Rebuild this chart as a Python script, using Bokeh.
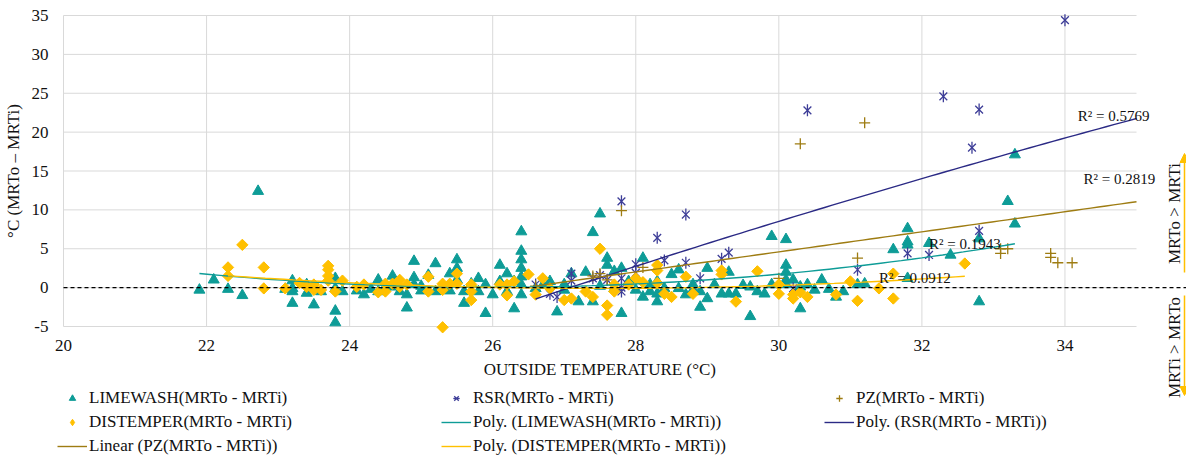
import numpy as np
from bokeh.plotting import figure
from bokeh.models import (Range1d, FixedTicker, Legend, LegendItem, Label, Arrow, NormalHead)
from bokeh.embed import file_html
from bokeh.resources import INLINE

# ---------------- data ----------------
x_ticks = [20, 22, 24, 26, 28, 30, 32, 34]
y_ticks = [-5, 0, 5, 10, 15, 20, 25, 30, 35]
x_limits = [20, 35]
y_limits = [-5, 35]

limewash_x = [21.9, 22.1, 22.3, 22.5, 22.72, 23.1, 23.2, 23.2, 23.2, 23.2, 23.4, 23.4, 23.5, 23.6, 23.8, 23.8, 23.8, 23.8,
              23.9, 24.1, 24.2, 24.3, 24.4, 24.4, 24.5, 24.6, 24.6, 24.7, 24.8, 24.8, 24.9, 24.9, 24.9, 25.0, 25.0, 25.1,
              25.2, 25.2, 25.3, 25.4, 25.4, 25.5, 25.5, 25.5, 25.6, 25.6, 25.7, 25.8, 25.8, 25.9, 25.9, 26.0, 26.1, 26.1,
              26.2, 26.2, 26.3, 26.3, 26.4, 26.4, 26.4, 26.4, 26.4, 26.4, 26.4, 26.6, 26.7, 26.8, 26.9, 27.0, 27.0, 27.1,
              27.2, 27.3, 27.4, 27.4, 27.5, 27.5, 27.6, 27.6, 27.7, 27.7, 27.8, 27.8, 27.9, 28.0, 28.0, 28.1, 28.1, 28.2,
              28.2, 28.3, 28.3, 28.3, 28.4, 28.5, 28.6, 28.6, 28.7, 28.8, 28.8, 28.9, 28.9, 29.0, 29.0, 29.1, 29.2, 29.3,
              29.3, 29.4, 29.5, 29.6, 29.6, 29.7, 29.8, 29.9, 29.9, 30.1, 30.1, 30.1, 30.1, 30.1, 30.2, 30.3, 30.3, 30.4,
              30.5, 30.6, 30.7, 30.8, 30.9, 31.1, 31.2, 31.6, 31.8, 31.8, 31.8, 31.8, 32.1, 32.4, 32.8, 32.8, 33.2, 33.3,
              33.3]
limewash_y = [-0.3, 1.0, -0.2, -1.0, 12.4, -0.2, 0.9, -0.1, -0.5, -2.0, 0.4, -0.7, -2.2, -0.5, 1.2, -0.1, -3.0, -4.5,
              -0.5, -0.4, -0.9, -0.2, 1.0, -0.5, 0.1, 1.5, 0.1, -0.5, -0.9, -2.6, 3.4, 1.3, 0.4, -0.4, 0.2, 1.6,
              3.1, -0.5, 0.1, 1.8, -0.4, 3.6, 2.5, 1.0, -0.5, -2.0, 0.5, 1.2, -0.5, 0.4, -3.3, -0.9, 2.9, 0.8,
              1.8, -0.5, -2.7, 0.8, 7.2, 4.7, 3.6, 2.5, 1.4, 0.4, -0.9, -0.1, 0.3, 0.8, -3.1, 0.4, -0.3, 1.8,
              -1.8, 2.0, 7.1, -1.8, 9.5, 0.2, 3.8, 2.9, 2.1, -0.1, 2.5, -3.3, 0.8, 1.0, -0.3, 3.8, -1.2, 0.4,
              -0.5, -0.8, -1.8, 0.8, -0.1, 1.7, 2.3, -0.1, -0.9, 0.4, -0.3, -2.5, -0.5, 2.5, -1.4, 0.4, -0.8, 2.0,
              -0.8, -0.8, 0.3, -3.7, 0.1, -0.5, -0.8, 6.6, 0.4, 6.2, 2.9, 2.0, 1.0, 0.4, 1.0, -2.7, 0.1, 0.4,
              -0.3, 1.0, -0.2, -1.2, -0.5, 0.4, 0.5, 4.9, 7.6, 5.9, 5.5, 1.2, 5.7, 4.2, 6.3, -1.8, 11.1, 17.1,
              8.2]

distemper_x = [22.3, 22.3, 22.5, 22.8, 22.8, 23.1, 23.3, 23.4, 23.5, 23.5, 23.6, 23.7, 23.7, 23.7, 23.7, 23.8, 23.9,
               24.1, 24.2, 24.4, 24.5, 24.5, 24.6, 24.7, 24.7, 24.8, 25.1, 25.1, 25.3, 25.3, 25.3, 25.4, 25.5, 25.5,
               25.7, 25.7, 25.7, 26.1, 26.2, 26.2, 26.3, 26.5, 26.6, 26.7, 26.8, 27.0, 27.1, 27.3, 27.4, 27.5, 27.6,
               27.6, 27.7, 27.7, 27.9, 28.0, 28.1, 28.3, 28.3, 28.3, 28.4, 28.5, 28.7, 28.8, 29.2, 29.2, 29.4, 29.7,
               30.0, 30.0, 30.2, 30.2, 30.3, 30.4, 30.8, 31.0, 31.1, 31.4, 31.6, 31.6, 32.6]
distemper_y = [2.6, 1.5, 5.5, 2.6, -0.1, -0.1, 0.6, 0.1, -0.3, 0.4, -0.3, 2.8, 2.3, 1.5, 0.9, -0.5, 0.9,
               0.1, 0.4, -0.6, 0.5, -0.5, 0.5, 1.0, 0.1, 0.4, 1.4, -0.5, 0.5, -0.3, -5.1, 0.5, 1.8, 0.5,
               0.4, -0.5, -1.6, 0.4, 0.4, -1.0, 0.8, 1.7, -0.9, 1.2, -0.1, -1.6, -1.4, -0.5, -1.2, 5.0, -2.3,
               -3.5, 0.4, -0.5, 0.4, 1.2, 0.7, 2.9, 2.2, 0.6, -0.8, -1.2, 1.4, -0.8, 2.2, 1.7, -1.8, 2.1,
               0.4, -0.8, -1.4, -0.9, -0.6, -1.2, -0.9, 0.8, -1.7, -0.1, 1.8, -1.4, 3.1]

rsr_x = [26.6, 26.8, 26.9, 27.1, 27.1, 27.4, 27.5, 27.6, 27.8, 27.8, 27.8, 27.8, 28.0, 28.0, 28.3, 28.4, 28.7, 28.7,
         28.9, 29.2, 29.3, 30.2, 30.4, 31.1, 31.8, 32.1, 32.3, 32.7, 32.8, 32.8, 34.0]
rsr_y = [0.4, -0.8, -1.2, 1.8, 0.9, 1.2, 1.6, 1.0, 11.1, 1.2, 0.0, -0.5, 3.0, 1.9, 6.4, 3.5, 9.4, 3.2,
         1.2, 3.7, 4.5, -0.1, 22.8, 2.3, 4.4, 4.2, 24.6, 18.0, 22.9, 7.3, 34.4]

pz_x = [26.6, 27.4, 27.5, 27.6, 27.8, 28.1, 30.0, 30.3, 31.1, 31.2, 33.1, 33.1, 33.2, 33.8, 33.8, 33.9, 34.1]
pz_y = [0.2, 1.5, 1.8, 1.0, 9.9, 2.6, 1.2, 18.5, 3.8, 21.2, 5.0, 4.4, 5.0, 4.4, 3.9, 3.2, 3.2]

# trendline coefficients (highest power first) and x-extent
limewash_poly = [0.105, -5.46, 71.03]
limewash_span = [21.9, 33.3]
distemper_poly = [0.06, -3.30, 45.275]
distemper_span = [22.3, 32.6]
rsr_poly = [-0.0345, 4.888, -107.07]
rsr_span = [26.6, 35.0]
pz_linear = [1.29, -34.1]
pz_span = [26.6, 35.0]

r2_texts = ["R² = 0.5769", "R² = 0.2819", "R² = 0.1943", "R² = 0.0912"]
r2_x = [34.18, 34.26, 32.1, 31.4]
r2_y = [22.1, 14.0, 5.65, 1.3]

# ---------------- layout / style ----------------
W, H = 1186, 456
PLOT_L, PLOT_R, PLOT_T, PLOT_B = 63, 1136, 15, 326          # plot-area edges in canvas pixels
PX_X = (PLOT_R - PLOT_L) / (x_limits[1] - x_limits[0])
PX_Y = (PLOT_B - PLOT_T) / (y_limits[1] - y_limits[0])
xr = Range1d(x_limits[0] - PLOT_L / PX_X, x_limits[0] + (W - PLOT_L) / PX_X)
yr = Range1d(y_limits[0] - (H - PLOT_B) / PX_Y, y_limits[1] + PLOT_T / PX_Y)

FONT = "Liberation Serif"
FS = "17px"
TXT = "#111111"
TEAL = "#0E9C97"
GOLD = "#FFC000"
NAVY = "#2B2A85"
NAVY_M = "#3E3E98"
OLIVE = "#9E7C12"
GRID = "#D9D9D9"

p = figure(width=W, height=H, x_range=xr, y_range=yr, output_backend="svg", toolbar_location=None,
           min_border=0, min_border_left=0, min_border_right=0, min_border_top=0, min_border_bottom=0)
p.outline_line_color = None
p.xgrid.visible = False
p.ygrid.visible = False

for ax in (p.xaxis[0], p.yaxis[0]):
    ax.axis_line_color = None
    ax.major_tick_line_color = None
    ax.minor_tick_line_color = None
    ax.major_tick_out = 0
    ax.major_tick_in = 0
    ax.major_label_text_font = FONT
    ax.major_label_text_font_size = FS
    ax.major_label_text_color = TXT
    ax.axis_label_text_font = FONT
    ax.axis_label_text_font_size = FS
    ax.axis_label_text_font_style = "normal"
    ax.axis_label_text_color = TXT

p.xaxis.ticker = FixedTicker(ticks=x_ticks)
p.yaxis.ticker = FixedTicker(ticks=y_ticks)
p.yaxis.major_label_overrides = {t: str(t) for t in y_ticks}
p.xaxis.fixed_location = y_limits[0]
p.yaxis.fixed_location = x_limits[0]
p.xaxis.bounds = tuple(x_limits)
p.yaxis.bounds = tuple(y_limits)
p.xaxis.axis_label = "OUTSIDE TEMPERATURE (°C)"
p.yaxis.axis_label = "°C (MRTo – MRTi)"
p.xaxis.major_label_standoff = 13
p.xaxis.axis_label_standoff = 6
p.yaxis.major_label_standoff = 15
p.yaxis.axis_label_standoff = 6

# gridlines limited to the plot area
p.segment(x0=x_ticks, x1=x_ticks, y0=[y_limits[0]] * len(x_ticks), y1=[y_limits[1]] * len(x_ticks),
          line_color=GRID, line_width=1)
p.segment(x0=[x_limits[0]] * len(y_ticks), x1=[x_limits[1]] * len(y_ticks), y0=y_ticks, y1=y_ticks,
          line_color=GRID, line_width=1)

# dashed zero line extending past the plot area
p.add_layout(Arrow(end=None, x_start=x_limits[0], y_start=0, x_end=xr.end, y_end=0,
                   line_color="black", line_dash="4 3", line_width=1.2))

# scatter series
r_lime = p.scatter(limewash_x, limewash_y, marker="triangle", size=11, fill_color=TEAL, line_color=TEAL)
r_rsr1 = p.scatter(rsr_x, rsr_y, marker="x", size=11, line_color=NAVY_M, line_width=1.3)
r_rsr2 = p.scatter(rsr_x, rsr_y, marker="dash", angle=np.pi / 2, size=12, line_color=NAVY_M, line_width=1.3)
r_pz = p.scatter(pz_x, pz_y, marker="cross", size=11, line_color=OLIVE, line_width=1.3)
# diamond renderer (used for the legend swatch), fully covered by the rotated squares drawn on top
r_dis_key = p.scatter(distemper_x, distemper_y, marker="diamond", size=10, fill_color=GOLD, line_color=GOLD)
r_dis = p.scatter(distemper_x, distemper_y, marker="square", angle=np.pi / 4, size=8,
                  fill_color=GOLD, line_color=GOLD)

# trend lines
def curve(coefs, span):
    xs = np.linspace(span[0], span[1], 80)
    return xs, np.polyval(coefs, xs)

xs, ys = curve(limewash_poly, limewash_span)
t_lime = p.line(xs, ys, line_color=TEAL, line_width=1.4)
xs, ys = curve(rsr_poly, rsr_span)
t_rsr = p.line(xs, ys, line_color=NAVY, line_width=1.4)
xs, ys = curve(pz_linear, pz_span)
t_pz = p.line(xs, ys, line_color=OLIVE, line_width=1.4)
xs, ys = curve(distemper_poly, distemper_span)
t_dis = p.line(xs, ys, line_color=GOLD, line_width=1.4)

for t, x, y in zip(r2_texts, r2_x, r2_y):
    p.add_layout(Label(x=x, y=y, text=t, text_font=FONT, text_font_size="15px",
                       text_baseline="middle", text_align="left", text_color=TXT))

# right side annotations (screen units: from canvas left / bottom)
p.add_layout(Label(x=1174, y=H - 213, x_units="screen", y_units="screen", text="MRTo > MRTi", angle=np.pi / 2,
                   text_font=FONT, text_font_size=FS, text_align="center", text_baseline="middle",
                   text_color=TXT))
p.add_layout(Label(x=1174, y=H - 347, x_units="screen", y_units="screen", text="MRTi > MRTo", angle=np.pi / 2,
                   text_font=FONT, text_font_size=FS, text_align="center", text_baseline="middle",
                   text_color=TXT))
p.add_layout(Arrow(start_units="screen", end_units="screen", x_start=1184, y_start=H - 272, x_end=1184,
                   y_end=H - 153, line_color=GOLD, line_width=1.5,
                   end=NormalHead(size=9, fill_color=GOLD, line_color=GOLD)))
p.add_layout(Arrow(start_units="screen", end_units="screen", x_start=1184, y_start=H - 295, x_end=1184,
                   y_end=H - 395, line_color=GOLD, line_width=1.5,
                   end=NormalHead(size=9, fill_color=GOLD, line_color=GOLD)))

# legends (three columns)
def make_legend(items, x, y):
    lg = Legend(items=items, location=(x, y), orientation="vertical",
                label_text_font=FONT, label_text_font_size=FS, label_text_color=TXT,
                glyph_width=30, glyph_height=16, label_height=16, label_standoff=2, spacing=4,
                padding=0, margin=0, border_line_color=None, background_fill_alpha=0)
    p.add_layout(lg, "center")

make_legend([LegendItem(label="LIMEWASH(MRTo - MRTi)", renderers=[r_lime]),
             LegendItem(label="DISTEMPER(MRTo - MRTi)", renderers=[r_dis_key]),
             LegendItem(label="Linear (PZ(MRTo - MRTi))", renderers=[t_pz])], 57, 0)
make_legend([LegendItem(label="RSR(MRTo - MRTi)", renderers=[r_rsr1, r_rsr2]),
             LegendItem(label="Poly. (LIMEWASH(MRTo - MRTi))", renderers=[t_lime]),
             LegendItem(label="Poly. (DISTEMPER(MRTo - MRTi))", renderers=[t_dis])], 441, 0)
make_legend([LegendItem(label="PZ(MRTo - MRTi)", renderers=[r_pz]),
             LegendItem(label="Poly. (RSR(MRTo - MRTi))", renderers=[t_rsr])], 824, 24)

open("out.html", "w").write(file_html(p, INLINE))
